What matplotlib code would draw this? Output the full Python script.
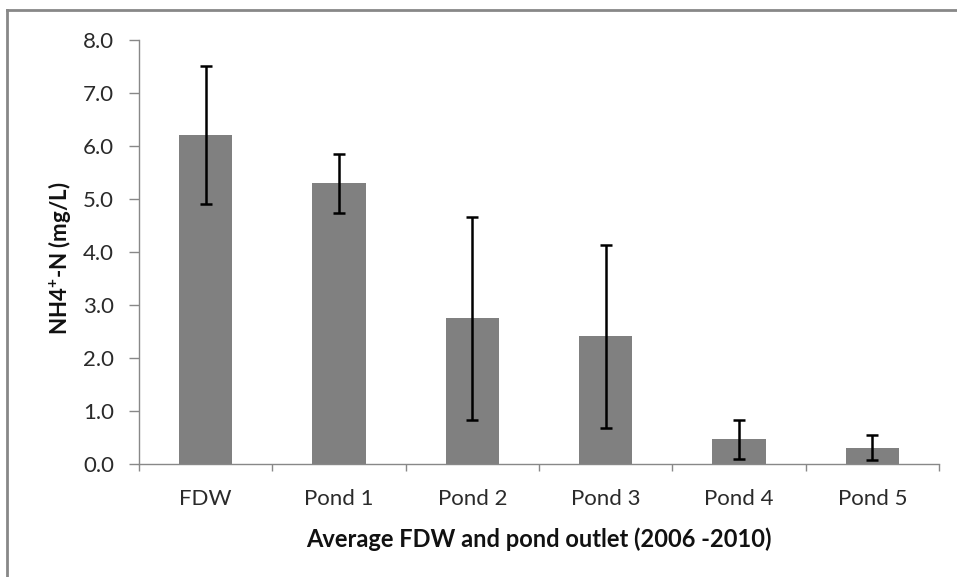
import matplotlib
matplotlib.use("Agg")
import matplotlib.pyplot as plt
from matplotlib.lines import Line2D
import numpy as np

categories = ["FDW", "Pond 1", "Pond 2", "Pond 3", "Pond 4", "Pond 5"]
means = [6.21, 5.29, 2.74, 2.40, 0.46, 0.30]
errors = [1.30, 0.56, 1.91, 1.73, 0.37, 0.24]
yticks = [0.0, 1.0, 2.0, 3.0, 4.0, 5.0, 6.0, 7.0, 8.0]

plt.rcParams['font.family'] = ['Lato', 'DejaVu Sans']
plt.rcParams['mathtext.fontset'] = 'custom'
plt.rcParams['mathtext.rm'] = 'Lato'
plt.rcParams['mathtext.bf'] = 'Lato:bold'

W, H = 957, 577
fig = plt.figure(figsize=(W / 100, H / 100), dpi=100)
ax = fig.add_axes([139 / W, 1 - 463.5 / H, 800 / W, 423.5 / H])

x = np.arange(len(categories))
ax.bar(x, means, width=0.4, color="#808080", zorder=2)
ax.errorbar(x, means, yerr=errors, fmt="none", ecolor="black", elinewidth=1.8,
            capsize=4.5, capthick=1.8, zorder=3)

ax.set_xlim(-0.5, len(categories) - 0.5)
ax.set_ylim(0, 8)
ax.set_yticks(yticks)
ax.set_yticklabels([f"{v:.1f}" for v in yticks])

ax.set_xticks(x)
ax.set_xticklabels(categories)
ax.set_xticks(np.arange(len(categories) + 1) - 0.5, minor=True)
ax.tick_params(axis='x', which='major', length=0, pad=18.5, labelsize=16, labelcolor="#2a2a2a")
ax.tick_params(axis='x', which='minor', length=5, width=1, color="#888888", direction='out')
ax.tick_params(axis='y', length=7, width=1, color="#888888", labelsize=16,
               labelcolor="#2a2a2a", pad=11)

for s in ["top", "right"]:
    ax.spines[s].set_visible(False)
for s in ["left", "bottom"]:
    ax.spines[s].set_color("#888888")
    ax.spines[s].set_linewidth(1)

fig.text(539 / W, 1 - 547 / H, "Average FDW and pond outlet (2006 -2010)", fontsize=17,
         fontweight="bold", ha="center", va="baseline", color="#111111")
fig.text(60 / W, 1 - 258 / H, r"NH4$^{\mathbf{+}}$-N (mg/L)", fontsize=16, fontweight="bold",
         rotation=90, ha="center", va="center", color="#111111")

# outer chart border (left and top visible)
fig.add_artist(Line2D([7 / W, 7 / W], [0, 1 - 10 / H], transform=fig.transFigure,
                      color="#888888", lw=2))
fig.add_artist(Line2D([7 / W, 1], [1 - 10 / H, 1 - 10 / H], transform=fig.transFigure,
                      color="#888888", lw=2))

fig.savefig("out.png", dpi=100)
